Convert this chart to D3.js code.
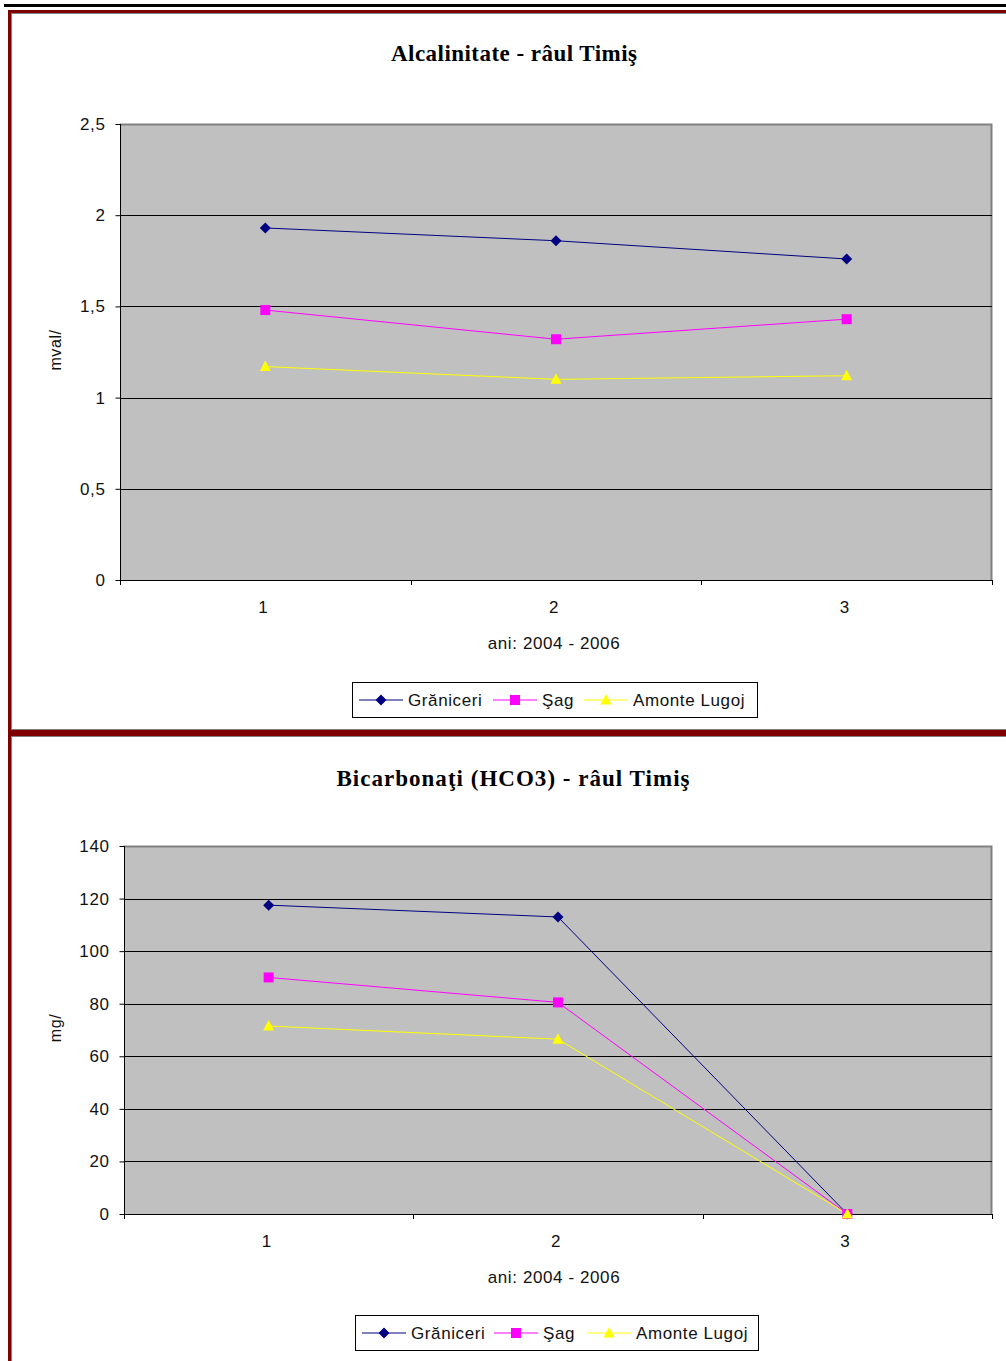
<!DOCTYPE html>
<html>
<head>
<meta charset="utf-8">
<script src="https://cdn.jsdelivr.net/npm/d3@7"></script>
<style>
  html, body { margin: 0; padding: 0; background: #fff; }
  svg { display: block; }
</style>
</head>
<body>
<script>
// Categories (sampling points on the x axis) and series names
const categories = ["1", "2", "3"];
const seriesNames = ["Grăniceri", "Şag", "Amonte Lugoj"];

// Alkalinity, mval/l
const alcGraniceri = [1.93, 1.86, 1.76];
const alcSag = [1.48, 1.32, 1.43];
const alcAmonteLugoj = [1.17, 1.10, 1.12];
const alcTicks = [0, 0.5, 1, 1.5, 2, 2.5];

// Bicarbonates, mg/l
const hcoGraniceri = [117.5, 113, 0];
const hcoSag = [90, 80.5, 0];
const hcoAmonteLugoj = [71.5, 66.5, 0];
const hcoTicks = [0, 20, 40, 60, 80, 100, 120, 140];

const W = 1006, H = 1361;
const svg = d3.select("body").append("svg").attr("width", W).attr("height", H);

const styles = [
  { color: "#000080", marker: "diamond" },
  { color: "#ff00ff", marker: "square" },
  { color: "#ffff00", marker: "triangle" }
];

const sansFont = "'Liberation Sans', Arial, sans-serif";
const serifFont = "'Liberation Serif', 'Times New Roman', serif";
const labelSize = 17;
const labelSpacing = "0.6px";

// page rule above the figures
svg.append("rect").attr("x", 4).attr("y", 4).attr("width", W).attr("height", 3).attr("fill", "#000");

// frames around each chart
function frame(y0, y1) {
  svg.append("rect").attr("x", 9.5).attr("y", y0).attr("width", 1100).attr("height", y1 - y0)
    .attr("fill", "none").attr("stroke", "#800000").attr("stroke-width", 3);
  svg.append("rect").attr("x", 11.5).attr("y", y0 + 2).attr("width", 1100).attr("height", y1 - y0 - 4)
    .attr("fill", "none").attr("stroke", "#808080").attr("stroke-width", 1);
}
frame(11.5, 731.5);
frame(734.5, 1500);

function markerPath(type, cx, cy) {
  if (type === "diamond") return `M${cx},${cy - 5.5}L${cx + 5.5},${cy}L${cx},${cy + 5.5}L${cx - 5.5},${cy}Z`;
  if (type === "square") return `M${cx - 5},${cy - 5}h10v10h-10Z`;
  return `M${cx},${cy - 6}L${cx + 5.5},${cy + 4.5}L${cx - 5.5},${cy + 4.5}Z`;
}

function sansText(sel, size) {
  return sel.attr("font-family", sansFont).attr("font-size", size || labelSize)
    .attr("letter-spacing", labelSpacing).attr("fill", "#111");
}

function drawChart(cfg) {
  const g = svg.append("g");
  const x = d3.scaleBand().domain(categories).range([cfg.left, cfg.right]);
  const y = d3.scaleLinear().domain([0, cfg.max]).range([cfg.bottom, cfg.top]);

  // plot area
  g.append("rect").attr("x", cfg.left).attr("y", cfg.top)
    .attr("width", cfg.right - cfg.left).attr("height", cfg.bottom - cfg.top)
    .attr("fill", "#c0c0c0");
  g.append("path")
    .attr("d", `M${cfg.left},${cfg.top + 0.5}H${cfg.right - 0.5}V${cfg.bottom}`)
    .attr("fill", "none").attr("stroke", "#808080").attr("stroke-width", 2);

  // horizontal gridlines
  g.selectAll(".grid").data(cfg.ticks.filter(t => t > 0 && t < cfg.max)).join("line")
    .attr("x1", cfg.left).attr("x2", cfg.right)
    .attr("y1", d => Math.round(y(d)) + 0.5).attr("y2", d => Math.round(y(d)) + 0.5)
    .attr("stroke", "#000").attr("stroke-width", 1);

  // y axis
  const yAxis = d3.axisLeft(y).tickValues(cfg.ticks).tickSize(5).tickPadding(cfg.tickPad)
    .tickFormat(d => String(d).replace(".", ","));
  const ya = g.append("g").attr("transform", `translate(${cfg.left + 0.5},0)`).call(yAxis);
  ya.select(".domain").attr("d", `M-0,${cfg.top}V${cfg.bottom}`);
  sansText(ya.selectAll("text"));

  // x axis with ticks on category boundaries
  const bounds = categories.map(c => x(c)).concat([cfg.right]);
  g.append("line").attr("x1", cfg.left).attr("x2", cfg.right)
    .attr("y1", cfg.bottom + 0.5).attr("y2", cfg.bottom + 0.5).attr("stroke", "#000");
  g.selectAll(".xt").data(bounds).join("line")
    .attr("x1", d => Math.round(d) + 0.5).attr("x2", d => Math.round(d) + 0.5)
    .attr("y1", cfg.bottom).attr("y2", cfg.bottom + 5).attr("stroke", "#000");
  sansText(g.selectAll(".xl").data(categories).join("text"))
    .attr("x", d => x(d) + x.bandwidth() / 2 - 2).attr("y", cfg.bottom + 33)
    .attr("text-anchor", "middle").text(d => d);

  // axis titles
  sansText(g.append("text")).attr("x", 554).attr("y", cfg.bottom + 69)
    .attr("text-anchor", "middle").text("ani: 2004 - 2006");
  sansText(g.append("text"), 16).attr("transform", `translate(61,${cfg.yLabelY}) rotate(-90)`)
    .attr("text-anchor", "middle").text(cfg.yLabel);

  // chart title
  g.append("text").attr("x", cfg.titleX).attr("y", cfg.titleY).attr("text-anchor", "middle")
    .attr("font-family", serifFont).attr("font-weight", "bold").attr("font-size", 23)
    .attr("textLength", cfg.titleWidth).attr("lengthAdjust", "spacing")
    .attr("fill", "#000").text(cfg.title);

  // series lines and markers
  const line = d3.line().x((d, i) => x(categories[i]) + x.bandwidth() / 2).y(d => y(d));
  cfg.series.forEach((vals, si) => {
    const st = styles[si];
    g.append("path").attr("d", line(vals)).attr("fill", "none")
      .attr("stroke", st.color).attr("stroke-width", 1);
  });
  cfg.series.forEach((vals, si) => {
    const st = styles[si];
    g.selectAll(null).data(vals).join("path")
      .attr("d", (d, i) => markerPath(st.marker, x(categories[i]) + x.bandwidth() / 2, y(d)))
      .attr("fill", st.color);
  });

  // legend
  const lg = cfg.legend;
  g.append("rect").attr("x", lg.x + 0.5).attr("y", lg.y + 0.5).attr("width", lg.w).attr("height", lg.h)
    .attr("fill", "#fff").attr("stroke", "#000").attr("stroke-width", 1);
  const cy = lg.y + lg.h / 2 + 0.5;
  seriesNames.forEach((name, i) => {
    const x0 = lg.items[i];
    const st = styles[i];
    g.append("line").attr("x1", x0).attr("x2", x0 + 44).attr("y1", cy).attr("y2", cy)
      .attr("stroke", st.color).attr("stroke-width", 1);
    g.append("path").attr("d", markerPath(st.marker, x0 + 22, cy)).attr("fill", st.color);
    sansText(g.append("text")).attr("x", x0 + 49).attr("y", cy + 6).text(name);
  });
}

drawChart({
  title: "Alcalinitate - râul Timiş",
  titleX: 514, titleY: 61, titleWidth: 246,
  yLabel: "mval/",
  yLabelY: 350,
  left: 120, right: 992, top: 124, bottom: 580, tickPad: 10,
  max: 2.5, ticks: alcTicks,
  series: [alcGraniceri, alcSag, alcAmonteLugoj],
  legend: { x: 352, y: 682, w: 405, h: 35, items: [359, 493, 584] }
});

drawChart({
  title: "Bicarbonaţi (HCO3) - râul Timiş",
  titleX: 513, titleY: 786, titleWidth: 353,
  yLabel: "mg/",
  yLabelY: 1028,
  left: 124, right: 992, top: 846, bottom: 1214, tickPad: 10,
  max: 140, ticks: hcoTicks,
  series: [hcoGraniceri, hcoSag, hcoAmonteLugoj],
  legend: { x: 355, y: 1315, w: 403, h: 35, items: [362, 494, 587] }
});
</script>
</body>
</html>
